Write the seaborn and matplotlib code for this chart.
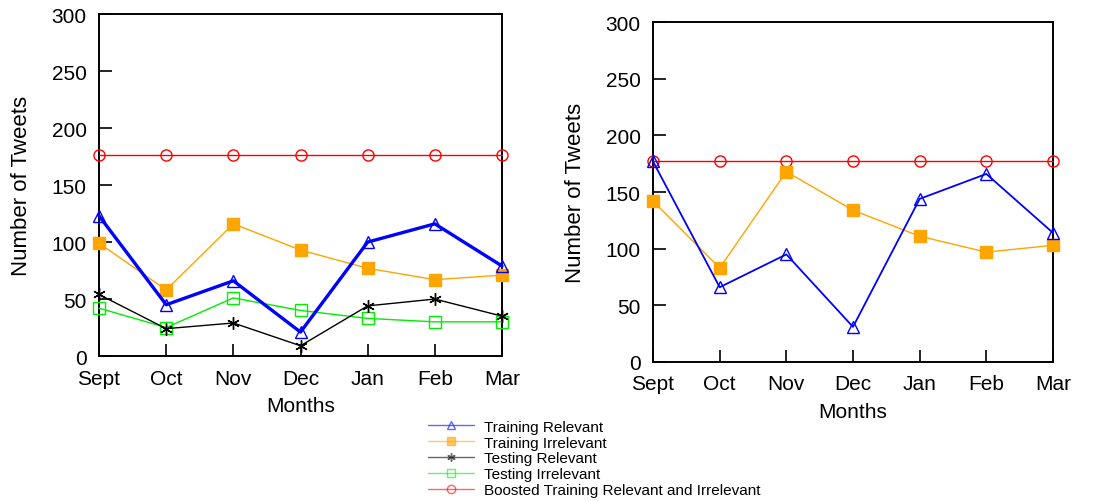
import numpy as np
import pandas as pd
import matplotlib
matplotlib.use('Agg')
import matplotlib.pyplot as plt
import seaborn as sns
from matplotlib.lines import Line2D

sns.set_theme(style='white')
plt.rcParams['font.family'] = ['Liberation Sans', 'DejaVu Sans']
plt.rcParams['text.color'] = 'black'
plt.rcParams['axes.labelcolor'] = 'black'

# ------------------------------------------------------------
# Datos
# ------------------------------------------------------------
months = ['Sept', 'Oct', 'Nov', 'Dec', 'Jan', 'Feb', 'Mar']

# Panel izquierdo
left_train_rel = [123, 45, 66, 21, 100, 116, 79]
left_train_irr = [99, 58, 116, 93, 77, 67, 71]
left_test_rel = [54, 24, 29, 9, 44, 50, 35]
left_test_irr = [42, 25, 51, 40, 33, 30, 30]
left_boosted = [176, 176, 176, 176, 176, 176, 176]

# Panel derecho
right_train_rel = [177, 66, 95, 31, 144, 166, 114]
right_train_irr = [142, 83, 168, 134, 111, 97, 103]
right_boosted = [177, 177, 177, 177, 177, 177, 177]

labels = ['Training Relevant', 'Training Irrelevant', 'Testing Relevant',
          'Testing Irrelevant', 'Boosted Training Relevant and Irrelevant']
colors = ['#0000ff', '#ffa500', '#000000', '#00ee00', '#ff0000']
markers = ['^', 's', (6, 2, 0), 's', 'o']
filled = [False, True, False, False, False]

FS = 15


def draw_series(ax, values, idx, lw=1.0, ms=8):
    df = pd.DataFrame({'x': np.arange(len(months)), 'y': values})
    mfc = colors[idx] if filled[idx] else 'none'
    sns.lineplot(data=df, x='x', y='y', ax=ax, color=colors[idx], lw=lw,
                 marker=markers[idx], markersize=ms, markerfacecolor=mfc,
                 markeredgecolor=colors[idx], markeredgewidth=1.0,
                 clip_on=False, zorder=3)


def style_axes(ax):
    ax.set_xlim(0, len(months) - 1)
    ax.set_ylim(0, 300)
    ax.set_xticks(np.arange(len(months)))
    ax.set_xticklabels(months)
    ax.set_yticks(range(0, 301, 50))
    ax.tick_params(direction='in', length=9, width=1.2, labelsize=FS,
                   colors='black', top=False, right=False,
                   left=True, bottom=True)
    ax.tick_params(axis='x', pad=9)
    ax.tick_params(axis='y', pad=9)
    ax.set_xlabel('Months', fontsize=FS, labelpad=6)
    ax.set_ylabel('Number of Tweets', fontsize=FS + 1, labelpad=14)
    for sp in ax.spines.values():
        sp.set_color('black')
        sp.set_linewidth(1.4)


fig = plt.figure(figsize=(11.04, 5.02), dpi=100)
ax1 = fig.add_axes([0.0897, 0.2888, 0.365, 0.681])
ax2 = fig.add_axes([0.5915, 0.2769, 0.3623, 0.677])

draw_series(ax1, left_boosted, 4)
draw_series(ax1, left_test_irr, 3)
draw_series(ax1, left_test_rel, 2, ms=9)
draw_series(ax1, left_train_irr, 1)
draw_series(ax1, left_train_rel, 0, lw=2.4)

draw_series(ax2, right_boosted, 4)
draw_series(ax2, right_train_irr, 1)
draw_series(ax2, right_train_rel, 0, lw=1.3)

for ax in (ax1, ax2):
    style_axes(ax)

# Leyenda común
handles = []
for i, lab in enumerate(labels):
    mfc = colors[i] if filled[i] else 'none'
    handles.append(Line2D([0], [0], color=colors[i], lw=1.0, alpha=0.6,
                          marker=markers[i], markersize=6,
                          markerfacecolor=mfc, markeredgecolor=colors[i]))
fig.legend(handles, labels, loc='upper left', bbox_to_anchor=(0.381, 0.177),
           frameon=False, fontsize=11, labelspacing=0.12, handlelength=3,
           handletextpad=0.65, borderpad=0)

fig.savefig('out.png', dpi=100, facecolor='white')
